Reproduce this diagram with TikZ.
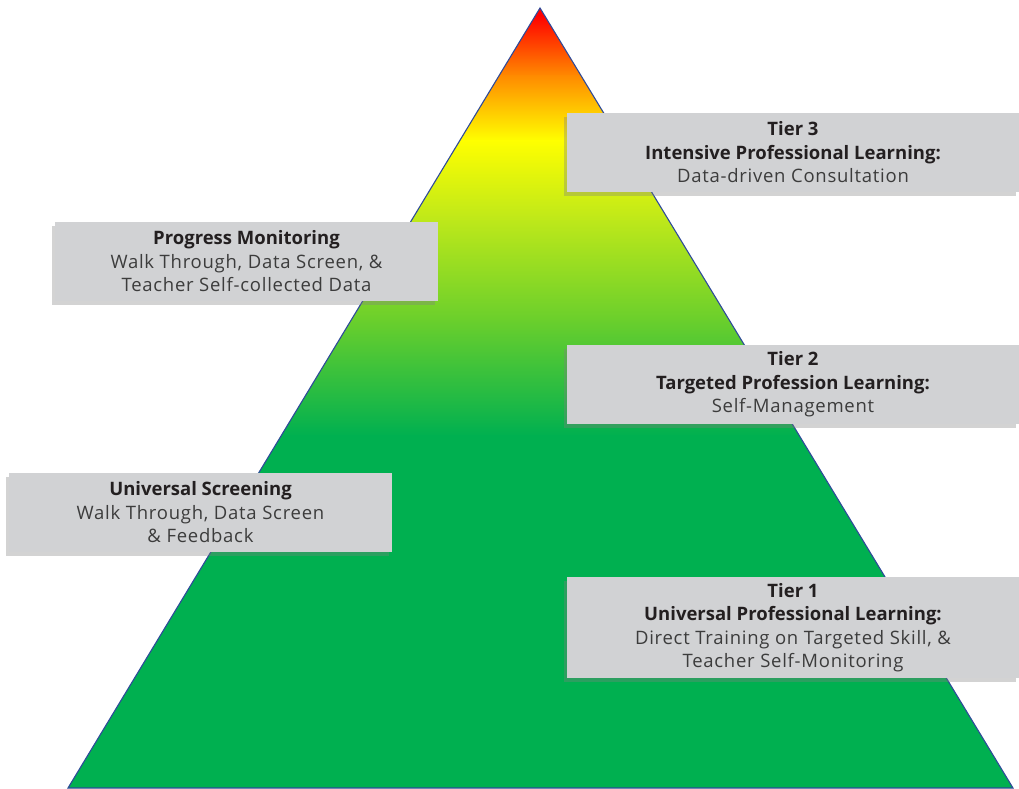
\documentclass[tikz,border=0pt]{standalone}
\usepackage{fontspec}
\setmainfont{Open Sans}
\newfontfamily\regfont[LetterSpace=4]{Open Sans}
\usetikzlibrary{shadows}
\definecolor{boxgray}{HTML}{D1D2D4}
\definecolor{edgeblue}{HTML}{2E4A9A}
\definecolor{txtdark}{HTML}{231F20}
\definecolor{txtreg}{HTML}{3C3C3C}
\definecolor{cRed}{HTML}{FF0000}
\definecolor{cOrange}{HTML}{FF8A00}
\definecolor{cYellow}{HTML}{FFFF00}
\definecolor{cYG}{HTML}{BDE81A}
\definecolor{cLG}{HTML}{6ACF2C}
\definecolor{cGreen}{HTML}{00B050}
\tikzset{
  infobox/.style={fill=boxgray, align=center, inner sep=0pt,
    font=\fontsize{18.5}{23.5}\selectfont\regfont, text=txtreg,
    drop shadow={shadow xshift=-3pt, shadow yshift=-4pt, opacity=0.35}},
  outline/.style={draw=edgeblue, line width=1.1pt, line join=miter}
}
\newcommand{\hd}[1]{{\normalfont\fontsize{18.5}{23.5}\selectfont\bfseries\color{txtdark}#1}}
\begin{document}
\begin{tikzpicture}[x=1pt,y=-1pt]
\useasboundingbox (0,0) rectangle (1019,788);
\coordinate (apex) at (540,8);
\coordinate (bl) at (68,788);
\coordinate (br) at (1013,788);
\begin{scope}
  \clip (apex) -- (bl) -- (br) -- cycle;
  \fill[cRed] (0,0) rectangle (1019,16);
  \shade[top color=cRed, bottom color=cOrange] (0,15) rectangle (1019,76);
  \shade[top color=cOrange, bottom color=cYellow] (0,75) rectangle (1019,141);
  \shade[top color=cYellow, bottom color=cYG] (0,140) rectangle (1019,221);
  \shade[top color=cYG, bottom color=cLG] (0,220) rectangle (1019,321);
  \shade[top color=cLG, bottom color=cGreen] (0,320) rectangle (1019,436);
  \fill[cGreen] (0,435) rectangle (1019,790);
\end{scope}
\draw[outline] (apex) -- (bl) -- (br) -- cycle;

\node[infobox, minimum width=452pt, minimum height=79pt] (t3) at (793,152.5)
  {\hd{Tier 3}\\ \hd{Intensive Professional Learning:}\\ Data-driven Consultation};
\node[infobox, minimum width=383pt, minimum height=79pt] (pm) at (246.5,261.5)
  {\hd{Progress Monitoring}\\ Walk Through, Data Screen, \&\\ Teacher Self-collected Data};
\node[infobox, minimum width=452pt, minimum height=79pt] (t2) at (793,384.5)
  {\hd{Tier 2}\\ \hd{Targeted Profession Learning:}\\ Self-Management};
\node[infobox, minimum width=383pt, minimum height=79pt] (us) at (200.5,512.5)
  {\hd{Universal Screening}\\ Walk Through, Data Screen\\ \& Feedback};
\node[infobox, minimum width=452pt, minimum height=101pt] (t1) at (793,627.5)
  {\hd{Tier 1}\\ \hd{Universal Professional Learning:}\\ Direct Training on Targeted Skill, \&\\ Teacher Self-Monitoring};
\end{tikzpicture}
\end{document}
